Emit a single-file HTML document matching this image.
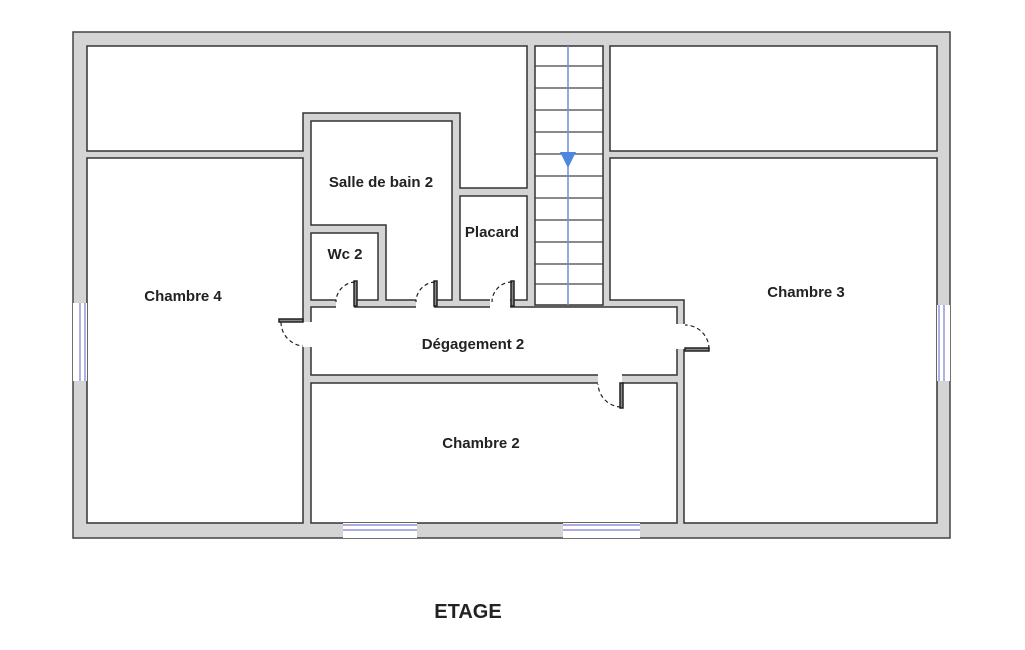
<!DOCTYPE html>
<html><head><meta charset="utf-8"><style>
html,body{margin:0;padding:0;background:#fff;width:1025px;height:650px;overflow:hidden}
text{font-family:"Liberation Sans",sans-serif;font-weight:bold;fill:#222}
</style></head><body>
<svg width="1025" height="650" viewBox="0 0 1025 650" xmlns="http://www.w3.org/2000/svg">
<rect x="73" y="32" width="877" height="506" fill="#d4d4d4" stroke="#444" stroke-width="1.5"/>
<g fill="#fff" stroke="#333" stroke-width="1.5">
<polygon points="87,46 527,46 527,188 460,188 460,113 303,113 303,151 87,151"/>
<rect x="87" y="158" width="216" height="365"/>
<rect x="610" y="46" width="327" height="105"/>
<polygon points="610,158 937,158 937,523 684,523 684,300 610,300"/>
<polygon points="311,121 452,121 452,300 386,300 386,225 311,225"/>
<rect x="311" y="233" width="67" height="67"/>
<rect x="460" y="196" width="67" height="104"/>
<rect x="535" y="46" width="68" height="259"/>
<rect x="311" y="307" width="366" height="68"/>
<rect x="311" y="383" width="366" height="140"/>
</g>
<g stroke="#444" stroke-width="1.2">
<line x1="535" y1="66" x2="603" y2="66"/><line x1="535" y1="88" x2="603" y2="88"/>
<line x1="535" y1="110" x2="603" y2="110"/><line x1="535" y1="132" x2="603" y2="132"/>
<line x1="535" y1="154" x2="603" y2="154"/><line x1="535" y1="176" x2="603" y2="176"/>
<line x1="535" y1="198" x2="603" y2="198"/><line x1="535" y1="220" x2="603" y2="220"/>
<line x1="535" y1="242" x2="603" y2="242"/><line x1="535" y1="264" x2="603" y2="264"/>
<line x1="535" y1="284" x2="603" y2="284"/>
</g>
<line x1="568" y1="46" x2="568" y2="305" stroke="#6a8fd8" stroke-width="1.5"/>
<polygon points="560,152 576,152 568,168" fill="#4f86e0"/>
<g fill="#fff">
<rect x="336" y="299" width="18" height="9"/>
<rect x="416" y="299" width="18" height="9"/>
<rect x="490" y="299" width="20" height="9"/>
<rect x="302" y="322" width="10" height="25"/>
<rect x="676" y="324" width="9" height="25"/>
<rect x="598" y="374" width="24" height="10"/>
<rect x="73" y="303" width="14" height="78"/>
<rect x="937" y="305" width="13" height="76"/>
<rect x="343" y="523" width="74" height="15"/>
<rect x="563" y="523" width="77" height="15"/>
</g>
<g stroke="#7a7ad0" stroke-width="1.2" fill="none">
<line x1="85" y1="303" x2="85" y2="381"/><line x1="80" y1="303" x2="80" y2="381"/>
<line x1="939" y1="305" x2="939" y2="381"/><line x1="944" y1="305" x2="944" y2="381"/>
<line x1="343" y1="525" x2="417" y2="525"/><line x1="343" y1="530" x2="417" y2="530"/>
<line x1="563" y1="525" x2="640" y2="525"/><line x1="563" y1="530" x2="640" y2="530"/>
</g>
<g stroke="#222" stroke-width="1.5" fill="none">
<rect x="354" y="281" width="3" height="25" fill="#888"/>
<rect x="434" y="281" width="3" height="25" fill="#888"/>
<rect x="511" y="281" width="3" height="25" fill="#888"/>
<rect x="279" y="319" width="24" height="3" fill="#888"/>
<rect x="685" y="348" width="24" height="3" fill="#888"/>
<rect x="620" y="383" width="3" height="25" fill="#888"/>
</g>
<g stroke="#222" stroke-width="1.2" fill="none" stroke-dasharray="4,3">
<path d="M355,282 A20,20 0 0 0 336,302"/>
<path d="M435,282 A20,20 0 0 0 416,302"/>
<path d="M512,282 A20,20 0 0 0 492,302"/>
<path d="M281,322 A24,24 0 0 0 303,346"/>
<path d="M709,349 A24,24 0 0 0 685,325"/>
<path d="M621,407 A24,24 0 0 1 598,384"/>
</g>
<g font-size="15">
<text x="183" y="301" text-anchor="middle">Chambre 4</text>
<text x="806" y="297" text-anchor="middle">Chambre 3</text>
<text x="381" y="187" text-anchor="middle">Salle de bain 2</text>
<text x="345" y="259" text-anchor="middle">Wc 2</text>
<text x="492" y="237" text-anchor="middle">Placard</text>
<text x="473" y="349" text-anchor="middle">Dégagement 2</text>
<text x="481" y="448" text-anchor="middle">Chambre 2</text>
</g>
<text x="468" y="618" text-anchor="middle" font-size="20">ETAGE</text>
</svg>
</body></html>
